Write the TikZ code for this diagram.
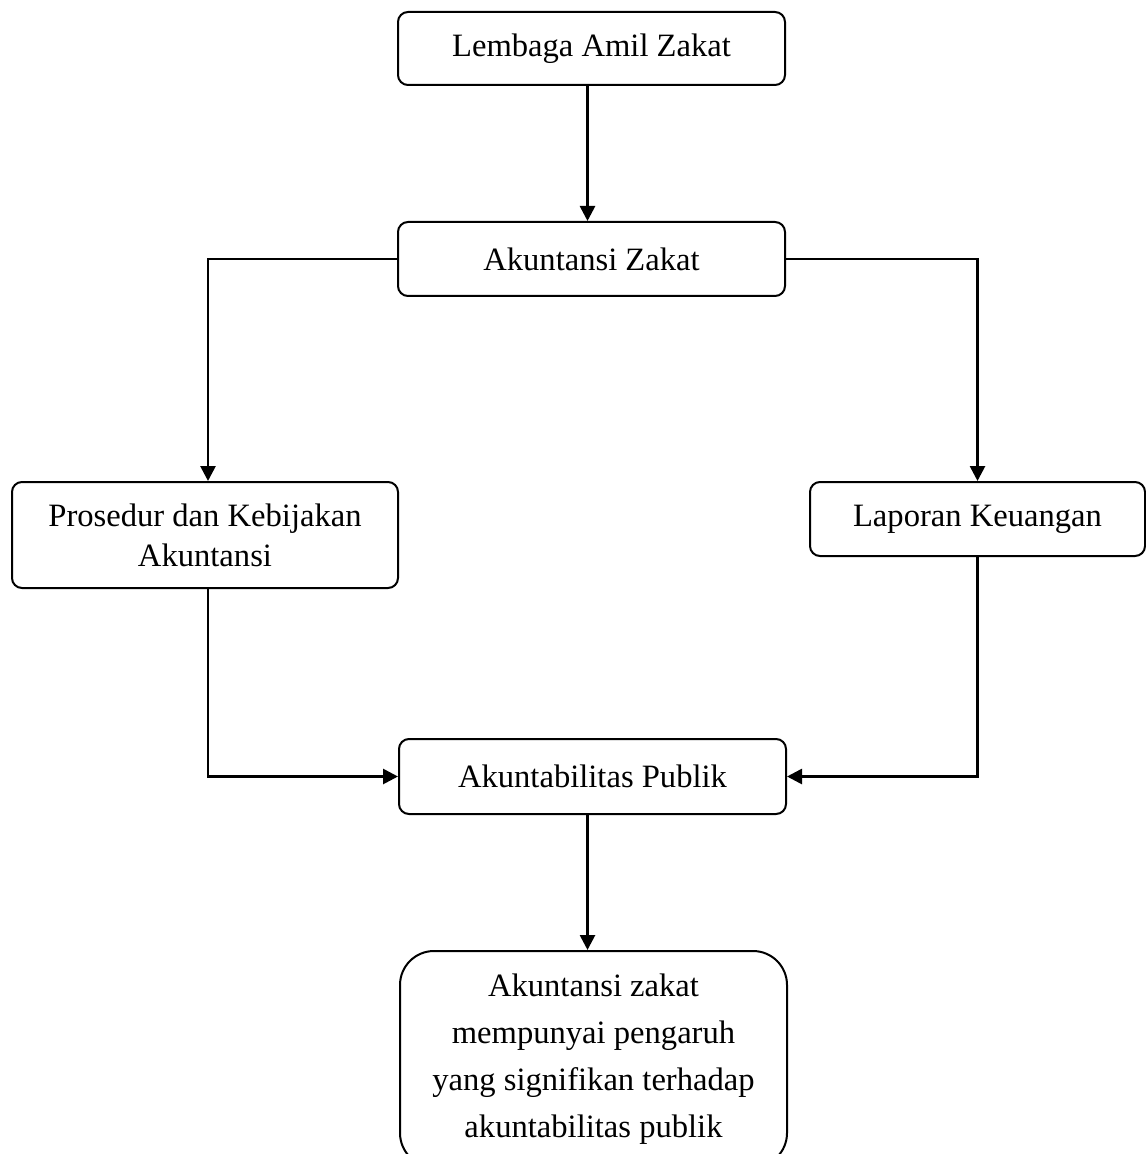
\documentclass[tikz,border=0pt]{standalone}
\usepackage{fontspec}
\setmainfont{Liberation Serif}
\usetikzlibrary{arrows.meta}
\tikzset{
	kotak/.style={draw, line width=1pt, rounded corners=5pt, align=center, inner sep=2pt,
		minimum width=193.5pt, minimum height=37pt, font=\fontsize{16.3}{20}\selectfont},
	panah/.style={line width=1.35pt, -{Triangle[length=7.5pt,width=7.5pt]}},
}
\begin{document}
\begin{tikzpicture}[x=0.5pt, y=-0.5pt]
			%%%%% START %%%%%
			\useasboundingbox (0,0) rectangle (1145,1154);
			
			\node[kotak, minimum height=36.5pt] (lembaga) at (591.5,48.5) {Lembaga Amil Zakat};
			\node[kotak] (akuntansi) at (591.5,259) {Akuntansi Zakat};
			
			\node[kotak, minimum width=193pt, minimum height=53pt] (prosedur) at (205,535) {Prosedur dan Kebijakan\\Akuntansi};
			\node[kotak, minimum width=167.5pt] (laporan) at (977.5,519) {Laporan Keuangan};
			
			\node[kotak, minimum height=37.5pt] (publik) at (592.5,776.5) {Akuntabilitas Publik};
			\node[kotak, rounded corners=17pt, minimum height=108pt, font=\fontsize{16.3}{23.5}\selectfont] (kesimpulan) at (593.5,1059)
				{Akuntansi zakat\\mempunyai pengaruh\\yang signifikan terhadap\\akuntabilitas publik};
			
			\draw[panah] ([xshift=-2pt]lembaga.south) -- ([xshift=-2pt]akuntansi.north);
			\draw[panah] (akuntansi.west) -| ([xshift=1.5pt]prosedur.north);
			\draw[panah] (akuntansi.east) -| (laporan.north);
			\draw[panah] ([xshift=1.5pt]prosedur.south) |- (publik.west);
			\draw[panah] (laporan.south) |- (publik.east);
			\draw[panah] ([xshift=-2.5pt]publik.south) -- ([xshift=-3pt]kesimpulan.north);
			
			%%%%% END %%%%%
\end{tikzpicture}
\end{document}
